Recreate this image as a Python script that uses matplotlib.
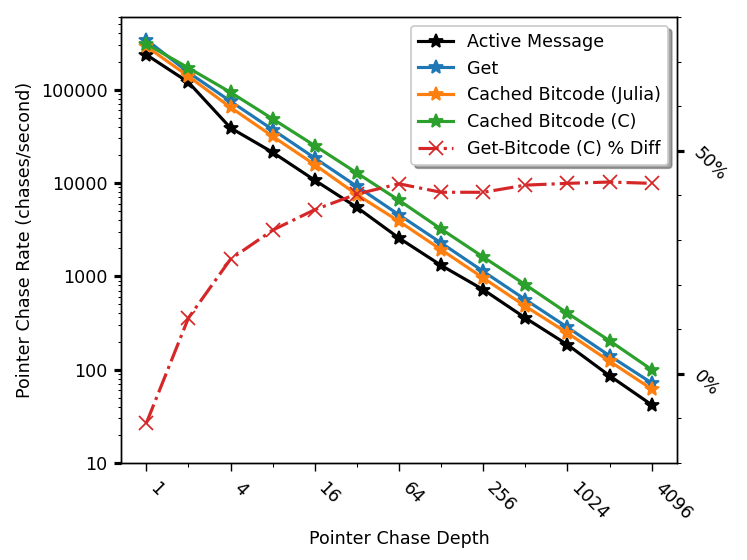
import matplotlib
matplotlib.use('Agg')
import matplotlib.pyplot as plt
from matplotlib.ticker import FixedLocator, NullFormatter, MultipleLocator, FuncFormatter

depth = [1, 2, 4, 8, 16, 32, 64, 128, 256, 512, 1024, 2048, 4096]

active_msg = [237000, 120000, 38900, 21300, 10700, 5480, 2570, 1310, 720, 358, 185, 86, 42]
get = [343000, 153000, 75000, 37300, 18500, 9200, 4560, 2280, 1130, 563, 284, 141, 72]
bitcode_julia = [291000, 139000, 64600, 31600, 15700, 7500, 3880, 1930, 960, 478, 247, 123, 62]
bitcode_c = [309000, 171000, 93600, 48600, 25100, 12800, 6520, 3210, 1610, 813, 403, 204, 100]
pct_diff = [-11.1, 12.5, 25.7, 32.2, 36.8, 40.3, 42.6, 40.7, 40.7, 42.3, 42.7, 43.0, 42.7]

DPI = 126
fig, ax = plt.subplots(figsize=(747 / DPI, 560 / DPI), dpi=DPI)
ax2 = ax.twinx()

lw, ms = 1.8, 8
l1, = ax.plot(depth, active_msg, color='black', marker='*', lw=lw, ms=ms, label='Active Message')
l2, = ax.plot(depth, get, color='tab:blue', marker='*', lw=lw, ms=ms, label='Get')
l3, = ax.plot(depth, bitcode_julia, color='tab:orange', marker='*', lw=lw, ms=ms, label='Cached Bitcode (Julia)')
l4, = ax.plot(depth, bitcode_c, color='tab:green', marker='*', lw=lw, ms=ms, label='Cached Bitcode (C)')
l5, = ax2.plot(depth, pct_diff, color='tab:red', marker='x', ls='-.', lw=lw, ms=ms, label='Get-Bitcode (C) % Diff')

ax.set_xscale('log', base=2)
ax.set_yscale('log')
ax.set_ylim(10, 6.0e5)
ax2.set_ylim(-20, 80)

ax.xaxis.set_major_locator(FixedLocator([1, 4, 16, 64, 256, 1024, 4096]))
ax.xaxis.set_minor_locator(FixedLocator([2, 8, 32, 128, 512, 2048]))
ax.xaxis.set_major_formatter(FuncFormatter(lambda v, p: '%d' % v))
ax.xaxis.set_minor_formatter(NullFormatter())
ax.yaxis.set_major_formatter(FuncFormatter(lambda v, p: '%d' % v))

ax2.yaxis.set_major_locator(FixedLocator([0, 50]))
ax2.yaxis.set_minor_locator(MultipleLocator(10))
ax2.yaxis.set_major_formatter(FuncFormatter(lambda v, p: '%d%%' % v))

ax.tick_params(axis='y', which='major', width=1.8, length=4)
ax.tick_params(axis='x', which='major', length=4.5, pad=4.5)
ax2.tick_params(axis='y', which='major', width=1.8, length=4)
for t in ax.get_xticklabels():
    t.set_rotation(-45)
    t.set_ha('left')
for t in ax2.get_yticklabels():
    t.set_rotation(-45)

ax.set_xlabel('Pointer Chase Depth')
ax.set_ylabel('Pointer Chase Rate (chases/second)')

ax2.legend(handles=[l1, l2, l3, l4, l5], loc='upper right', shadow=True, fancybox=True, framealpha=1)

fig.subplots_adjust(left=121 / 747, right=677 / 747, top=1 - 17 / 560, bottom=1 - 463 / 560)
fig.savefig('out.png', dpi=DPI)
